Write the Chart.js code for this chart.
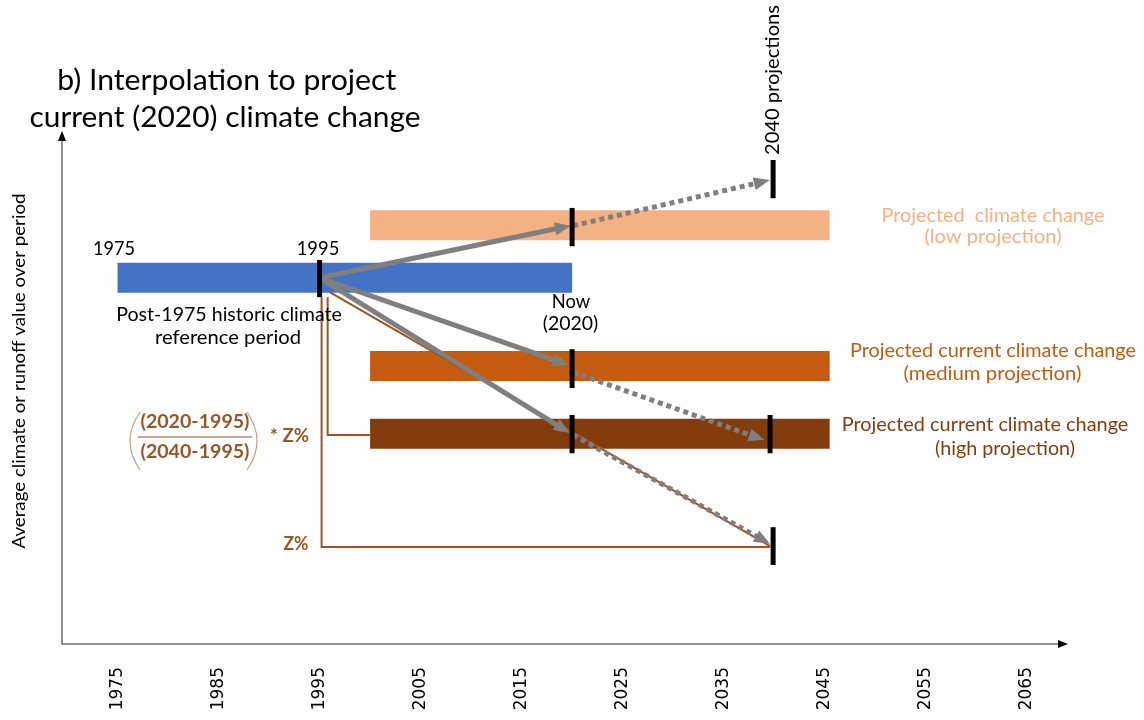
<!DOCTYPE html>
<html lang="en">
<head>
<meta charset="UTF-8">
<title>Interpolation to project current (2020) climate change</title>
<script src="https://cdn.jsdelivr.net/npm/chart.js"></script>
<style>
  html, body { margin: 0; padding: 0; background: #fff; }
  #wrap { position: relative; width: 1144px; height: 720px; }
</style>
</head>
<body>
<div id="wrap"><canvas id="grafico"></canvas></div>
<script>
// x axis tick labels (years)
const yearTicks = [1975, 1985, 1995, 2005, 2015, 2025, 2035, 2045, 2055, 2065];

// averaging periods, drawn as horizontal bars (y = arbitrary climate value)
const periodNames  = ['Post-1975 historic', 'Low projection', 'Medium projection', 'High projection'];
const periodStart  = [1975, 2000, 2000, 2000];
const periodEnd    = [2020, 2045.5, 2045.5, 2045.5];
const periodValue  = [72, 82.3, 54.7, 41.4];
const periodColors = ['#4472C4', '#F4B183', '#C55A11', '#843C0C'];

// short black markers (1995, 2020 and 2040)
const markerYear = [1995, 2020, 2020, 2020, 2039.9, 2039.6, 2039.9];
const markerLow  = [68.2, 78.2, 50.4, 37.6, 87.6, 37.6, 15.7];
const markerHigh = [75.5, 85.7, 58.0, 45.1, 95.1, 45.1, 23.1];

// solid arrows 1995 -> 2020
const arrowFromYear  = 1995;
const arrowFromValue = 72;
const arrowToYear    = [2019.1, 2018.9, 2019.1];
const arrowToValue   = [81.9, 55.4, 42.4];

// dotted arrows 2020 -> 2040
const dotFromYear  = [2020.1, 2020.1, 2020.1];
const dotFromValue = [82.2, 53.5, 41.2];
const dotToYear    = [2038.8, 2038.3, 2038.9];
const dotToValue   = [90.8, 40.7, 20.6];

// brown construction lines for the Z% interpolation
const zLineYear  = [1995.2, 1995.2, 2039.6];
const zLineValue = [68.2, 19.2, 19.2];
const zPartYear  = [1995.8, 1995.8, 2000.1];
const zPartValue = [68.2, 41.2, 41.2];
const zDiagYear  = [1996.0, 2039.6];
const zDiagValue = [69.2, 19.4];

const gray = '#7F7F7F';
const brownLine = '#A0521F';
const formulaColor = '#96562A';

function pts(xs, ys) {
    return xs.map((x, i) => ({ x: x, y: ys[i] }));
}

const datasets = [];

periodNames.forEach((name, i) => {
    datasets.push({
        label: name,
        data: pts([periodStart[i], periodEnd[i]], [periodValue[i], periodValue[i]]),
        borderColor: periodColors[i],
        borderWidth: 30,
        order: 5
    });
});

datasets.push({ label: 'Z%', data: pts(zLineYear, zLineValue), borderColor: brownLine, borderWidth: 2, order: 4 });
datasets.push({ label: 'Z% part', data: pts(zPartYear, zPartValue), borderColor: brownLine, borderWidth: 2, order: 4 });
datasets.push({ label: 'Z% diagonal', data: pts(zDiagYear, zDiagValue), borderColor: brownLine, borderWidth: 2, order: 4 });

arrowToYear.forEach((yr, i) => {
    datasets.push({
        label: 'to 2020 #' + i,
        data: pts([arrowFromYear, yr], [arrowFromValue, arrowToValue[i]]),
        borderColor: gray, borderWidth: 5, arrowHead: true, order: 3
    });
});

dotFromYear.forEach((yr, i) => {
    datasets.push({
        label: 'to 2040 #' + i,
        data: pts([yr, dotToYear[i]], [dotFromValue[i], dotToValue[i]]),
        borderColor: gray, borderWidth: 5, borderDash: [5, 4], arrowHead: true, order: 2
    });
});

markerYear.forEach((yr, i) => {
    datasets.push({
        label: 'marker #' + i,
        data: pts([yr, yr], [markerLow[i], markerHigh[i]]),
        borderColor: '#000', borderWidth: 5, order: 1
    });
});

// text placed on the figure (pixel positions)
const notes = [
    { text: 'b) Interpolation to project', x: 226.7, y: 90, size: 29.5, w: 339 },
    { text: 'current (2020) climate change', x: 225, y: 126.5, size: 29.5, w: 391 },
    { text: '1975', x: 114, y: 255, w: 42 },
    { text: '1995', x: 318, y: 255, w: 42.6 },
    { text: 'Post-1975 historic climate', x: 229, y: 320.5, w: 225.7 },
    { text: 'reference period', x: 228, y: 344, w: 146 },
    { text: 'Now', x: 571, y: 308, w: 38.3 },
    { text: '(2020)', x: 570.5, y: 330, w: 55.6 },
    { text: '2040 projections', x: 779, y: 80, w: 150, rot: -Math.PI / 2 },
    { text: 'Average climate or runoff value over period', x: 25, y: 371, size: 17, w: 355, rot: -Math.PI / 2 },
    { text: 'Projected  climate change', x: 993, y: 221.5, color: '#F4B183', w: 223 },
    { text: '(low projection)', x: 993, y: 243, color: '#F4B183', w: 137 },
    { text: 'Projected current climate change', x: 993, y: 356.5, color: '#C55A11', w: 286 },
    { text: '(medium projection)', x: 992.5, y: 380, color: '#C55A11', w: 178 },
    { text: 'Projected current climate change', x: 985, y: 430.5, color: '#843C0C', w: 286.6 },
    { text: '(high projection)', x: 1005, y: 455, color: '#843C0C', w: 140 },
    { text: '(2020-1995)', x: 195, y: 428, bold: true, color: formulaColor, w: 109 },
    { text: '(2040-1995)', x: 195, y: 458, bold: true, color: formulaColor, w: 109 },
    { text: '* Z%', x: 289.5, y: 442, bold: true, color: formulaColor, w: 39 },
    { text: 'Z%', x: 296, y: 550, bold: true, color: formulaColor, w: 25 }
];

function put(ctx, t) {
    ctx.save();
    ctx.font = (t.bold ? 'bold ' : '') + (t.size || 19.5) + 'px Lato';
    ctx.fillStyle = t.color || '#000';
    ctx.textAlign = 'center';
    ctx.textBaseline = 'alphabetic';
    ctx.translate(t.x, t.y);
    if (t.rot) ctx.rotate(t.rot);
    if (t.w) ctx.scale(t.w / ctx.measureText(t.text).width, 1);
    ctx.fillText(t.text, 0, 0);
    ctx.restore();
}

function tri(ctx, tipX, tipY, ang, len, half, color) {
    ctx.save();
    ctx.translate(tipX, tipY);
    ctx.rotate(ang);
    ctx.beginPath();
    ctx.moveTo(0, 0);
    ctx.lineTo(-len, -half);
    ctx.lineTo(-len, half);
    ctx.closePath();
    ctx.fillStyle = color;
    ctx.fill();
    ctx.restore();
}

const decor = {
    id: 'decor',
    beforeDatasetsDraw(chart) {
        const ctx = chart.ctx;
        const a = chart.chartArea;
        ctx.save();
        ctx.strokeStyle = '#6E6E6E';
        ctx.lineWidth = 1.5;
        ctx.beginPath();
        ctx.moveTo(a.left, 140);
        ctx.lineTo(a.left, a.bottom - 1);
        ctx.lineTo(1060, a.bottom - 1);
        ctx.stroke();
        ctx.restore();
        tri(ctx, a.left, 131, -Math.PI / 2, 10, 4, '#000');
        tri(ctx, 1068, a.bottom - 1, 0, 10, 4, '#000');
    },
    afterDatasetDraw(chart, args) {
        const ds = chart.data.datasets[args.index];
        if (!ds.arrowHead) return;
        const el = args.meta.data;
        const p0 = el[el.length - 2], p1 = el[el.length - 1];
        const ang = Math.atan2(p1.y - p0.y, p1.x - p0.x);
        tri(chart.ctx, p1.x + 8 * Math.cos(ang), p1.y + 8 * Math.sin(ang), ang, 16, 6.5, ds.borderColor);
    },
    afterDraw(chart) {
        const ctx = chart.ctx;
        notes.forEach(t => put(ctx, t));
        // fraction bar and brackets of the formula
        ctx.save();
        ctx.strokeStyle = formulaColor;
        ctx.lineWidth = 1.2;
        ctx.beginPath();
        ctx.moveTo(138, 437);
        ctx.lineTo(252, 437);
        ctx.stroke();
        ctx.strokeStyle = '#C4A080';
        ctx.beginPath();
        ctx.moveTo(140, 412);
        ctx.quadraticCurveTo(120, 441, 140, 470);
        ctx.moveTo(247, 412);
        ctx.quadraticCurveTo(267, 441, 247, 470);
        ctx.stroke();
        ctx.restore();
    }
};

new Chart(document.getElementById('grafico'), {
    type: 'line',
    data: { datasets: datasets },
    plugins: [decor],
    options: {
        responsive: true,
        maintainAspectRatio: false,
        animation: false,
        devicePixelRatio: 1,
        layout: { padding: { left: 62, right: 82, top: 135, bottom: 0 } },
        elements: {
            point: { radius: 0, hoverRadius: 0 },
            line: { tension: 0, fill: false, borderCapStyle: 'butt' }
        },
        plugins: {
            legend: { display: false },
            tooltip: { enabled: false }
        },
        scales: {
            x: {
                type: 'linear',
                min: 1969.5,
                max: 2068.5,
                grid: { display: false, drawTicks: false },
                border: { display: false },
                afterBuildTicks: s => { s.ticks = yearTicks.map(v => ({ value: v })); },
                afterFit: s => { s.height = 75; },
                ticks: {
                    autoSkip: false,
                    minRotation: 90,
                    maxRotation: 90,
                    padding: 22,
                    color: '#000',
                    font: { family: 'DejaVu Sans', size: 17 },
                    callback: v => String(v)
                }
            },
            y: {
                type: 'linear',
                min: 0,
                max: 100,
                display: false
            }
        }
    }
});
</script>
</body>
</html>
